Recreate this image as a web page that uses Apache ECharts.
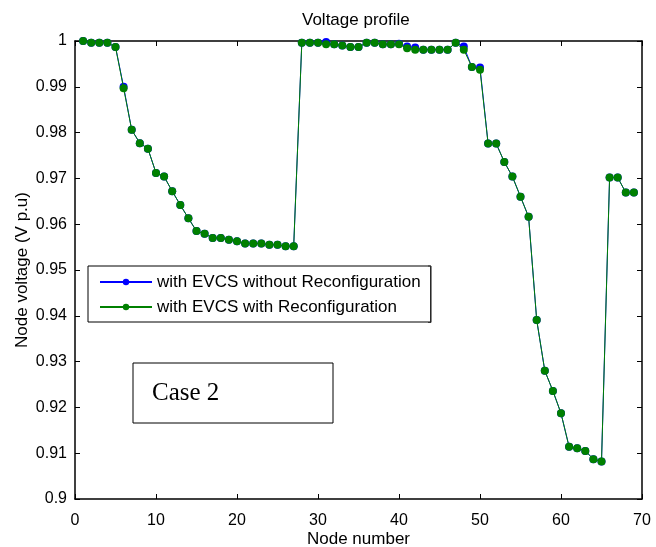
<!DOCTYPE html>
<html>
<head>
<meta charset="utf-8">
<script src="https://cdn.jsdelivr.net/npm/echarts@6/dist/echarts.min.js"></script>
<style>
html,body{margin:0;padding:0;background:#fff;}
#chart{width:656px;height:547px;}
</style>
</head>
<body>
<div id="chart"></div>
<script>
// ---- data ----
const nodes = [1,2,3,4,5,6,7,8,9,10,11,12,13,14,15,16,17,18,19,20,21,22,23,24,25,26,27,28,29,30,
  31,32,33,34,35,36,37,38,39,40,41,42,43,44,45,46,47,48,49,50,51,52,53,54,55,56,57,58,59,60,
  61,62,63,64,65,66,67,68,69];
const withoutReconfig = [1.0000,0.9996,0.9996,0.9996,0.9987,0.9900,0.9806,0.9777,0.9765,0.9712,
  0.9704,0.9672,0.9642,0.9613,0.9585,0.9579,0.9570,0.9570,0.9566,0.9563,
  0.9558,0.9558,0.9558,0.9555,0.9555,0.9552,0.9552,0.9996,0.9996,0.9996,
  0.9998,0.9993,0.9990,0.9987,0.9987,0.9996,0.9996,0.9993,0.9993,0.9994,
  0.9988,0.9986,0.9981,0.9981,0.9981,0.9981,0.9996,0.9988,0.9943,0.9942,
  0.9776,0.9776,0.9736,0.9704,0.9660,0.9616,0.9391,0.9280,0.9236,0.9187,
  0.9114,0.9111,0.9105,0.9087,0.9082,0.9702,0.9702,0.9669,0.9669];
const withReconfig = [1.0000,0.9996,0.9996,0.9996,0.9987,0.9897,0.9806,0.9777,0.9765,0.9712,
  0.9704,0.9672,0.9642,0.9613,0.9585,0.9579,0.9570,0.9570,0.9566,0.9563,
  0.9558,0.9558,0.9558,0.9555,0.9555,0.9552,0.9552,0.9996,0.9996,0.9996,
  0.9993,0.9993,0.9990,0.9987,0.9987,0.9996,0.9996,0.9993,0.9993,0.9993,
  0.9984,0.9981,0.9981,0.9981,0.9981,0.9981,0.9996,0.9981,0.9943,0.9937,
  0.9776,0.9776,0.9736,0.9704,0.9660,0.9616,0.9391,0.9280,0.9236,0.9187,
  0.9114,0.9111,0.9105,0.9087,0.9082,0.9702,0.9702,0.9669,0.9669];
const seriesNames = ['with EVCS without Reconfiguration','with EVCS with Reconfiguration'];
const xTickLabels = ['0','10','20','30','40','50','60','70'];
const yTickLabels = ['0.9','0.91','0.92','0.93','0.94','0.95','0.96','0.97','0.98','0.99','1'];

const FONT = '"Liberation Sans", Arial, Helvetica, sans-serif';
const pairs = (xs, ys) => xs.map((x, i) => [x, ys[i]]);

const axisLineStyle = {color:'#000', width:1.5};
const tickStyle = {show:true, inside:true, length:5, lineStyle:{color:'#000', width:1}};

const chart = echarts.init(document.getElementById('chart'), null, {renderer:'canvas'});
chart.setOption({
  backgroundColor:'#fff',
  animation:false,
  title:{
    text:'Voltage profile',
    left:302, top:12, padding:0,
    textStyle:{fontFamily:FONT, fontSize:17, fontWeight:'normal', color:'#000'}
  },
  grid:{left:75, right:14, top:41, bottom:48, containLabel:false, outerBoundsMode:'none'},
  legend:{
    orient:'vertical',
    left:88, top:266,
    padding:[7.5,10,6.5,11],
    itemGap:8,
    itemWidth:52,
    itemHeight:8,
    backgroundColor:'#fff',
    borderColor:'#000',
    borderWidth:1,
    borderRadius:0,
    textStyle:{fontFamily:FONT, fontSize:17, color:'#000'},
    data:seriesNames
  },
  xAxis:[{
    type:'value', min:0, max:70, interval:10, position:'bottom',
    axisLine:{show:true, onZero:false, lineStyle:axisLineStyle},
    axisTick:tickStyle,
    splitLine:{show:false},
    axisLabel:{fontFamily:FONT, fontSize:16, color:'#000', margin:14,
      formatter:v => xTickLabels[Math.round(v/10)]},
    name:'Node number', nameLocation:'middle', nameGap:32, nameMoveOverlap:false,
    nameTextStyle:{fontFamily:FONT, fontSize:17, color:'#000'}
  },{
    type:'value', min:0, max:70, interval:10, position:'top',
    axisLine:{show:true, onZero:false, lineStyle:axisLineStyle},
    axisTick:tickStyle, axisLabel:{show:false}, splitLine:{show:false}
  }],
  yAxis:[{
    type:'value', min:0.9, max:1, interval:0.01, position:'left',
    axisLine:{show:true, onZero:false, lineStyle:axisLineStyle},
    axisTick:tickStyle,
    splitLine:{show:false},
    axisLabel:{fontFamily:FONT, fontSize:16, color:'#000', margin:8,
      formatter:v => yTickLabels[Math.round((v-0.9)/0.01)]},
    name:'Node voltage (V p.u)', nameLocation:'middle', nameGap:44, nameMoveOverlap:false,
    nameTextStyle:{fontFamily:FONT, fontSize:17, color:'#000'}
  },{
    type:'value', min:0.9, max:1, interval:0.01, position:'right',
    axisLine:{show:true, onZero:false, lineStyle:axisLineStyle},
    axisTick:tickStyle, axisLabel:{show:false}, splitLine:{show:false}
  }],
  series:[{
    name:seriesNames[0], type:'line', xAxisIndex:0, yAxisIndex:0,
    data:pairs(nodes, withoutReconfig),
    symbol:'circle', symbolSize:8, showSymbol:true,
    lineStyle:{color:'#0000ff', width:1},
    itemStyle:{color:'#0000ff'},
    z:2
  },{
    name:seriesNames[1], type:'line', xAxisIndex:0, yAxisIndex:0,
    data:pairs(nodes, withReconfig),
    symbol:'circle', symbolSize:8, showSymbol:true,
    lineStyle:{color:'#008000', width:1},
    itemStyle:{color:'#008000'},
    z:3
  }],
  graphic:[{
    type:'polyline',
    shape:{points:[[428,266],[431,266],[431,322.5],[428,322.5]]},
    style:{stroke:'#333', lineWidth:1, fill:null},
    z:100
  },{
    type:'rect',
    shape:{x:133, y:363, width:200, height:60},
    style:{fill:'#fff', stroke:'#000', lineWidth:1},
    z:100
  },{
    type:'text',
    x:152, y:393,
    style:{text:'Case 2', font:'25px "Liberation Serif", "Times New Roman", serif',
      fill:'#000', verticalAlign:'middle', align:'left'},
    z:101
  }]
});
</script>
</body>
</html>
